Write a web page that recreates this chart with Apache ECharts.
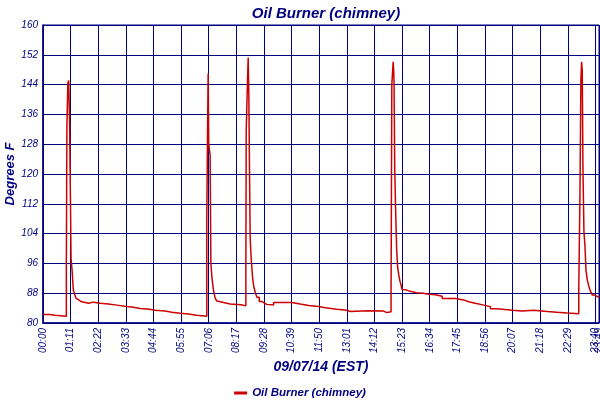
<!DOCTYPE html>
<html>
<head>
<meta charset="utf-8">
<script src="https://cdn.jsdelivr.net/npm/echarts@6/dist/echarts.min.js"></script>
<style>html,body{margin:0;padding:0;background:#fff}#c{width:600px;height:400px}</style>
</head>
<body>
<div id="c"></div>
<script>
// time in minutes since 00:00 (value holds until the next time)
const times = [
  0,18,31,60,61.5,64,66,68.5,69.5,71,72,75,78,82,85,88,92,99,104,117,130,147,168,190,215,228,250,274,288,314,331,353,374,395,
  421,423,424.5,426,429.5,431.5,434,438,442.5,447,451,464,481,509,
  521.4,522.3,525.7,527.4,529.1,530.8,532.5,535,538.5,542,545.4,549.7,555.7,562.5,569.4,575.4,592.6,639.7,661,682.6,708.3,725.5,755.3,781,789.6,836.8,875.3,884,
  894.5,896.5,900,901.4,902.2,904,906.5,909,911.7,915.2,917.7,920.3,923,926.3,933,943.5,960,978,987,1008,1026,1060,1081,1094,1111,1133,1150,1167,1206,1231,1261,1296,1321,1347,
  1377,1380,1382.5,1384.3,1386,1387.7,1390.3,1393,1395.5,1399,1403,1407.5,1412,1418.7,1424.7,1429
];
const temps = [
  82.3,82.1,81.8,95.1,133.2,144.5,145.1,133.2,122.4,109,97.4,93.8,88.8,87.5,86.6,86.2,85.7,85.4,85.3,85.6,85.3,85.1,84.8,84.4,84.3,83.9,83.7,83.4,83.2,82.9,82.6,82.4,82.1,81.8,
  108.5,132.3,147,128,125.1,96,92.4,88.9,86.6,85.9,85.5,85.1,84.9,84.6,
  93.8,131.8,145.2,151.3,140.8,120.2,102.7,97.5,92.4,89.6,88.3,86.9,85.8,85.3,85.0,84.8,85.5,85.1,84.7,84.4,84.1,83.7,83.4,83.1,83.3,83.2,82.8,83.0,
  86.2,143.9,150.1,147.5,144.6,121.5,109.4,99.6,94.7,92.4,91.1,90.2,89.0,88.9,88.5,88.1,88.0,87.8,87.6,87.2,86.6,86.2,85.7,85.3,84.8,84.4,83.8,83.4,83.2,83.4,83.1,82.9,82.7,82.5,
  89.3,113.9,145.2,150.1,147.7,122,104.5,100.5,94.2,91.5,89.8,88.4,87.5,87.1,86.9,86.9
];
const seriesName = 'Oil Burner (chimney)';
const xMin = 0, xMax = 1429, xStep = 71;
const yMin = 80, yMax = 160, yStep = 8;

const navy = '#000080';
const font = '"Liberation Sans", Arial, sans-serif';
const pad = n => (n < 10 ? '0' : '') + n;
const fmtTime = v => pad(Math.floor(v / 60)) + ':' + pad(Math.round(v % 60));
const labelStyle = { rotate: 90, color: navy, fontFamily: font, fontSize: 10, fontStyle: 'italic', margin: 5 };

const chart = echarts.init(document.getElementById('c'));
chart.setOption({
  backgroundColor: '#fff',
  animation: false,
  title: {
    text: 'Oil Burner (chimney)',
    left: 321, top: 1, textAlign: 'center',
    textStyle: { color: navy, fontFamily: font, fontSize: 15, fontWeight: 'bold', fontStyle: 'italic' }
  },
  legend: {
    data: [seriesName],
    left: 'center', top: 382,
    icon: 'rect', itemWidth: 13, itemHeight: 3, itemGap: 4,
    textStyle: { color: navy, fontFamily: font, fontSize: 11.5, fontWeight: 'bold', fontStyle: 'italic' }
  },
  grid: { left: 43, right: 1, top: 25, bottom: 77, show: true, borderColor: navy, borderWidth: 1, containLabel: false, outerBoundsMode: 'none' },
  xAxis: [{
    type: 'value', min: xMin, max: xMax, interval: xStep,
    name: '09/07/14 (EST)', nameLocation: 'middle', nameGap: 37, nameMoveOverlap: false,
    nameTextStyle: { color: navy, fontFamily: font, fontSize: 14, fontWeight: 'bold', fontStyle: 'italic' },
    axisLine: { lineStyle: { color: navy, width: 1.5 } },
    axisTick: { show: false },
    axisLabel: Object.assign({ formatter: fmtTime, showMaxLabel: false }, labelStyle),
    splitLine: { show: true, lineStyle: { color: navy, width: 1 } }
  }, {
    type: 'value', min: xMin, max: xMax, interval: xMax, position: 'bottom',
    axisLine: { show: false }, axisTick: { show: false }, splitLine: { show: false },
    axisLabel: Object.assign({ formatter: v => (v === xMax ? fmtTime(v) : ''), showMaxLabel: true }, labelStyle)
  }],
  yAxis: {
    type: 'value', min: yMin, max: yMax, interval: yStep,
    name: 'Degrees F', nameLocation: 'middle', nameGap: 26, nameMoveOverlap: false,
    nameTextStyle: { color: navy, fontFamily: font, fontSize: 13, fontWeight: 'bold', fontStyle: 'italic' },
    axisLine: { show: true, lineStyle: { color: navy, width: 1.5 } },
    axisTick: { show: false },
    axisLabel: { color: navy, fontFamily: font, fontSize: 10, fontStyle: 'italic', margin: 5 },
    splitLine: { show: true, lineStyle: { color: navy, width: 1 } }
  },
  series: [{
    name: seriesName,
    type: 'line',
    step: 'end',
    showSymbol: false,
    symbol: 'none',
    data: times.map((t, i) => [t, temps[i]]),
    lineStyle: { color: '#CC0000', width: 1.5 },
    itemStyle: { color: '#CC0000' }
  }]
});
</script>
</body>
</html>
